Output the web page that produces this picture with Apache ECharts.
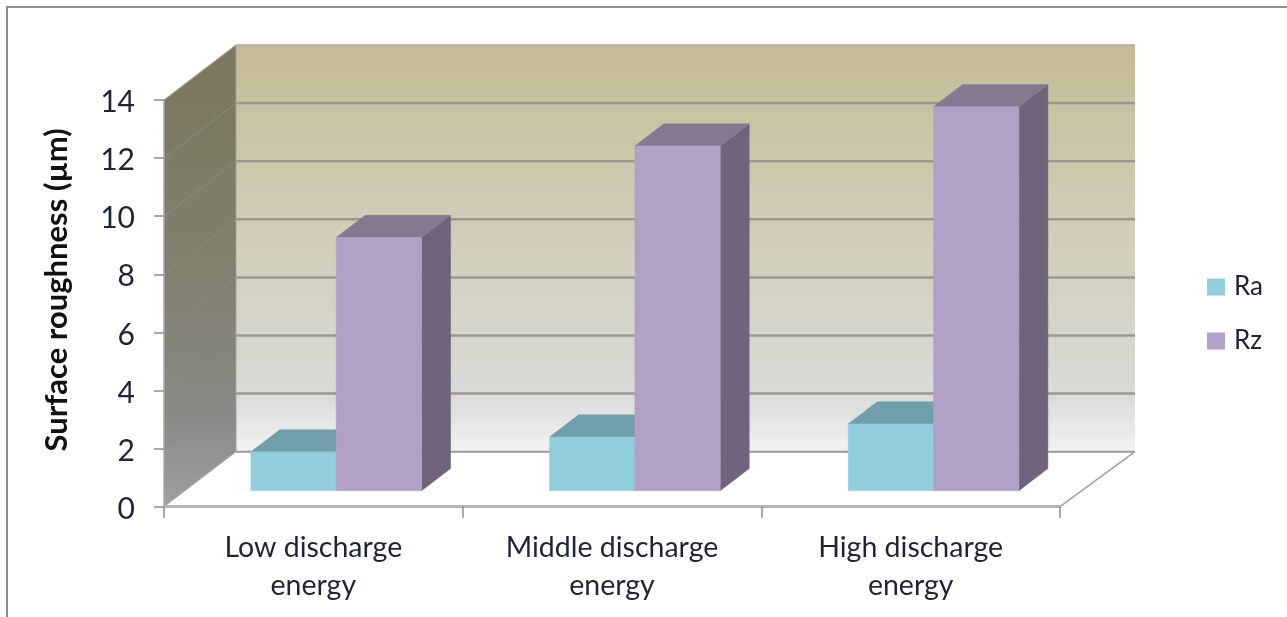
<!DOCTYPE html>
<html>
<head>
<meta charset="utf-8">
<style>html,body{margin:0;padding:0;background:#fff}#chart{width:1287px;height:617px}</style>
<script src="https://cdn.jsdelivr.net/npm/echarts@6/dist/echarts.min.js"></script>
</head>
<body>
<div id="chart"></div>
<script>
// Surface roughness by discharge energy, drawn as a 3D-style clustered column chart.
const categories = ['Low discharge\nenergy', 'Middle discharge\nenergy', 'High discharge\nenergy'];
const seriesNames = ['Ra', 'Rz'];
const raValues = [1.34, 1.85, 2.3];
const rzValues = [8.72, 11.87, 13.22];
const yTicks = [0, 2, 4, 6, 8, 10, 12, 14];

// Projection of the chart box: how far the back wall is shifted from the front plane.
const DEPTH_X = 72;
const DEPTH_Y = -55;
const BACK_RIGHT_EXTRA = 3;   // slight perspective widening of the back wall
const BAR_FRONT_GAP = 0.29;   // share of the depth in front of the columns
const BAR_SHIFT_X = 2;
const BAR_DEPTH = 0.403;      // share of the depth taken by a column
const BARS_PER_BAND = 3.5;    // two columns plus a 150% gap

const FONT = 'Lato, "Open Sans", sans-serif';

function poly(points, fill, extra) {
  return {
    type: 'polygon',
    shape: { points: points },
    style: Object.assign({ fill: fill, stroke: fill, lineWidth: 0.5 }, extra || {}),
    silent: true
  };
}
function seg(a, b, stroke, lineWidth) {
  return {
    type: 'line',
    shape: { x1: a[0], y1: a[1], x2: b[0], y2: b[1] },
    style: { stroke: stroke, lineWidth: lineWidth },
    silent: true
  };
}

// Side wall, back wall, floor and their grid lines.
function renderBox(params, api) {
  const g = params.coordSys;
  const xL = g.x, xR = g.x + g.width;
  const y0 = api.coord([0, yTicks[0]])[1];
  const yTop = api.coord([0, yTicks[yTicks.length - 1]])[1];
  const back = p => [p[0] + DEPTH_X + (p[0] === xR ? BACK_RIGHT_EXTRA : 0), p[1] + DEPTH_Y];
  const children = [];

  children.push(poly([[xL, y0], back([xL, y0]), back([xR, y0]), [xR, y0]], '#ffffff', { stroke: '#ffffff' }));

  children.push(poly(
    [back([xL, yTop]), back([xR, yTop]), back([xR, y0]), back([xL, y0])],
    {
      type: 'linear', x: 0, y: 0, x2: 0, y2: 1,
      colorStops: [
        { offset: 0, color: '#c4bc96' },
        { offset: 0.4, color: '#d0cbb4' },
        { offset: 0.72, color: '#d6d6cc' },
        { offset: 0.86, color: '#dadad8' },
        { offset: 1, color: '#f3f3f3' }
      ]
    },
    { stroke: 'none', lineWidth: 0 }
  ));

  children.push(poly(
    [[xL, yTop], back([xL, yTop]), back([xL, y0]), [xL, y0]],
    {
      type: 'linear', x: 0, y: 0, x2: 0, y2: 1,
      colorStops: [
        { offset: 0, color: '#7b775d' },
        { offset: 0.5, color: '#82806f' },
        { offset: 0.8, color: '#888885' },
        { offset: 1, color: '#a0a0a0' }
      ]
    },
    { stroke: 'none', lineWidth: 0 }
  ));

  yTicks.forEach(function (v) {
    const y = api.coord([0, v])[1];
    if (v > 0) {
      children.push(seg([xL, y], back([xL, y]), '#8b8a80', 1));
      if (v < yTicks[yTicks.length - 1]) {
        children.push(seg(back([xL, y]), back([xR, y]), '#999990', 2.5));
      }
    }
  });

  children.push(seg(back([xL, yTop]), back([xR, yTop]), '#a9a9a2', 1.5));
  children.push(seg(back([xL, yTop]), back([xL, y0]), '#a3a3a0', 1));
  children.push(seg(back([xL, y0]), back([xR, y0]), '#9a9a9a', 2));
  children.push(seg([xL, yTop], back([xL, yTop]), '#a8a8a0', 1));
  children.push(seg([xL, y0], back([xL, y0]), '#a8a8a8', 1));
  children.push(seg([xR, y0], back([xR, y0]), '#a0a0a0', 1.5));
  return { type: 'group', children: children };
}

// One column: front, top and right faces, placed by its series slot within the band.
function columnRenderer(slot, frontColor, topColor, sideColor) {
  return function (params, api) {
    const center = api.coord([api.value(0), 0]);
    const topPoint = api.coord([api.value(0), api.value(1)]);
    const band = api.size([1, 0])[0];
    const w = band / BARS_PER_BAND;
    const ox = BAR_FRONT_GAP * DEPTH_X + BAR_SHIFT_X;
    const oy = BAR_FRONT_GAP * DEPTH_Y;
    const dx = BAR_DEPTH * DEPTH_X;
    const dy = BAR_DEPTH * DEPTH_Y;
    const x0 = center[0] + ox + (slot - 1) * w;
    const x1 = x0 + w;
    const yb = center[1] + oy;
    const yt = topPoint[1] + oy;
    return {
      type: 'group',
      children: [
        poly([[x1, yt], [x1 + dx, yt + dy], [x1 + dx, yb + dy], [x1, yb]], sideColor),
        poly([[x0, yt], [x0 + dx, yt + dy], [x1 + dx, yt + dy], [x1, yt]], topColor),
        poly([[x0, yt], [x1, yt], [x1, yb], [x0, yb]], frontColor)
      ]
    };
  };
}

const chart = echarts.init(document.getElementById('chart'), null, { renderer: 'canvas' });
chart.setOption({
  animation: false,
  backgroundColor: '#ffffff',
  textStyle: { fontFamily: FONT },
  grid: { left: 164, top: 100, width: 896, height: 406.7 },
  graphic: [{
    type: 'polyline',
    shape: { points: [[7, 617], [7, 7], [1287, 7]] },
    style: { stroke: '#8f8f8f', lineWidth: 2, fill: 'none' },
    silent: true
  }],
  legend: {
    data: seriesNames,
    orient: 'vertical',
    left: 1207,
    top: 274,
    padding: 0,
    itemWidth: 18,
    itemHeight: 17,
    itemGap: 28,
    icon: 'rect',
    textStyle: { fontFamily: FONT, fontSize: 26, color: '#1d2433', padding: [0, 0, 0, 4] }
  },
  xAxis: {
    type: 'category',
    data: categories,
    z: 6,
    axisLine: { lineStyle: { color: '#b4b4b4', width: 3 } },
    axisTick: { show: true, length: 11, lineStyle: { color: '#8c8c8c', width: 1.5 } },
    axisLabel: {
      interval: 0,
      margin: 22,
      fontFamily: FONT,
      fontSize: 28.5,
      lineHeight: 38,
      color: '#1d2433'
    },
    splitLine: { show: false }
  },
  yAxis: {
    type: 'value',
    min: 0,
    max: 14,
    interval: 2,
    z: 6,
    name: 'Surface roughness (µm)',
    nameLocation: 'middle',
    nameGap: 92,
    nameTextStyle: {
      fontFamily: FONT, fontSize: 31, fontWeight: 'bold', color: '#111111',
      padding: [0, 0, 0, 27]
    },
    axisLine: { show: true, lineStyle: { color: '#a8a8a8', width: 1.5 } },
    axisTick: { show: true, length: 10, lineStyle: { color: '#8c8c8c', width: 1.5 } },
    axisLabel: {
      margin: 29,
      formatter: '{n|{value}}',
      rich: { n: { fontFamily: FONT, fontSize: 30, color: '#1d2433', padding: [5, 0, 0, 0] } }
    },
    splitLine: { show: false }
  },
  series: [
    { type: 'custom', name: 'box', data: [[0, 0]], z: 1, silent: true, renderItem: renderBox },
    {
      type: 'custom', name: seriesNames[0], z: 2, silent: true,
      itemStyle: { color: '#92cddc' },
      encode: { x: 0, y: 1 },
      data: raValues.map((v, i) => [i, v]),
      renderItem: columnRenderer(0, '#92cddc', '#719eab', '#5f8a96')
    },
    {
      type: 'custom', name: seriesNames[1], z: 3, silent: true,
      itemStyle: { color: '#b2a1c7' },
      encode: { x: 0, y: 1 },
      data: rzValues.map((v, i) => [i, v]),
      renderItem: columnRenderer(1, '#b2a1c7', '#857992', '#70647c')
    }
  ]
});
</script>
</body>
</html>
